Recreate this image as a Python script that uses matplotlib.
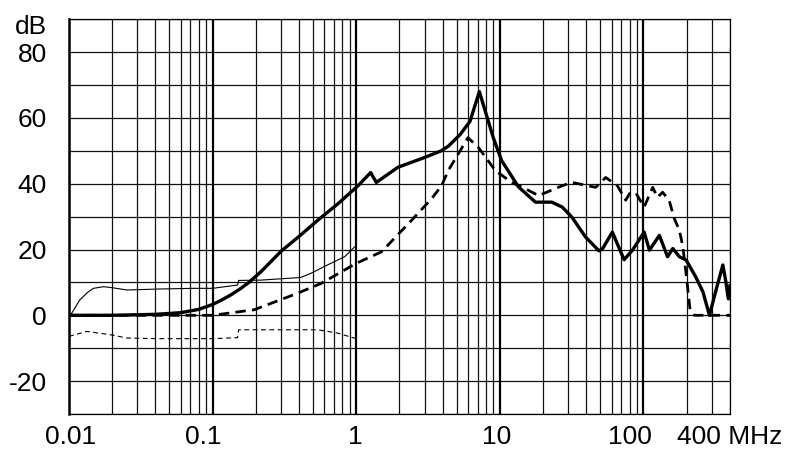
import matplotlib
matplotlib.use("Agg")
import matplotlib.pyplot as plt
from matplotlib.transforms import ScaledTranslation

plt.rcParams['font.family'] = ['Liberation Sans', 'DejaVu Sans']
plt.rcParams['lines.scale_dashes'] = False

# thick solid curve
freq_a = [0.01, 0.02, 0.04, 0.06, 0.08, 0.1, 0.115, 0.134, 0.155, 0.179, 0.22, 0.3, 0.4,
          0.54, 0.75, 1.03, 1.26, 1.38, 1.95, 3.0, 3.9, 4.4, 5.3, 6.2, 7.2, 9.0, 10.3,
          13.5, 17.7, 23, 27.2, 31.8, 39.5, 49, 52, 60.7, 73.3, 83.8, 101, 110, 129,
          147, 160, 178, 198, 231, 259, 288, 320, 357, 372, 390, 400]
db_a = [0, 0, 0.3, 0.8, 1.8, 3.3, 4.6, 6.2, 8.0, 10, 13.5, 19.5, 24,
        28.9, 34, 39.4, 43.4, 40.4, 45, 48, 50, 51.5, 55, 59, 68, 54, 47,
        39, 34.4, 34.4, 32.9, 29.8, 23.8, 19.6, 20.3, 25.3, 16.9, 19.8, 25.3, 19.8, 24.3,
        17.8, 20.3, 17.8, 16.8, 11.7, 7.2, 0, 7.7, 15.3, 11, 5, 9]

# thick dashed curve
freq_b = [0.01, 0.1, 0.195, 0.3, 0.39, 0.57, 1.0, 1.5, 2.43, 3.34, 3.93, 4.37, 6.0,
          7.1, 9.3, 12.1, 15, 18.6, 27.2, 31.8, 46.4, 54.6, 65.8, 75.2, 80, 88, 101,
          116, 125, 136, 151, 164, 178, 188, 198, 211, 226, 400]
db_b = [0, 0, 1.7, 4.8, 6.7, 9.7, 15.8, 19.3, 28.9, 35.4, 39.4, 44, 54,
        51, 44, 40.4, 38.5, 36.4, 39.4, 40.4, 38.9, 41.9, 39.4, 35, 37, 37.4, 32.9,
        38.9, 35.9, 37.4, 34.9, 29.4, 25.8, 20.8, 12.7, 1.7, 0, 0]

# thin solid curve
freq_c = [0.01, 0.0104, 0.0119, 0.0135, 0.0148, 0.0174, 0.02, 0.0253, 0.043, 0.074,
          0.1, 0.149, 0.152, 0.217, 0.41, 0.48, 0.63, 0.83, 0.975, 1.0]
db_c = [0, 0.5, 4.7, 7, 8.2, 8.7, 8.4, 7.7, 8.0, 8.2,
        8.2, 9.2, 10.6, 10.7, 11.5, 12.7, 15.3, 17.8, 20.8, 21]

# thin dashed curve
freq_d = [0.01, 0.0133, 0.0194, 0.0253, 0.04, 0.1, 0.149, 0.152, 0.54, 0.74, 1.0]
db_d = [-6.4, -4.9, -5.9, -6.9, -7.1, -7.1, -6.8, -4.4, -4.4, -5.4, -7.1]

x_ticks = [0.01, 0.1, 1, 10, 100, 400]
x_labels = ["0.01", "0.1", "1", "10", "100", "400 MHz"]
x_label_shift = [1, -7, -1, -2, -10, 0]  # points
y_ticks = list(range(-30, 91, 10))
y_labels = ["", "-20", "", "0", "", "20", "", "40", "", "60", "", "80", "dB"]


def graphic():
    fig = plt.figure(figsize=(7.9, 4.69), dpi=100)
    ax = fig.add_axes([0.0873, 0.1173, 0.8367, 0.8416])
    ax.set_xscale("log")
    ax.set_xlim(0.01, 400)
    ax.set_ylim(-30, 90)

    ax.plot(freq_c, db_c, color="black", linewidth=0.8, zorder=3)
    ax.plot(freq_d, db_d, color="black", linewidth=0.8, dashes=(3.5, 2.5), zorder=3)
    ax.plot(freq_b, db_b, color="black", linewidth=2.0, dashes=(7.5, 4.5), zorder=3)
    ax.plot(freq_a, db_a, color="black", linewidth=2.4, zorder=4)

    # grid
    for dec in [0.01, 0.1, 1, 10, 100]:
        ax.axvline(dec, color="black", linewidth=1.6, zorder=1)
        for m in range(2, 10):
            if dec * m <= 400:
                ax.axvline(dec * m, color="#111111", linewidth=0.9, zorder=1)
    for y in y_ticks:
        ax.axhline(y, color="#111111", linewidth=0.9, zorder=1)

    ax.set_xticks(x_ticks)
    ax.set_xticklabels(x_labels, fontsize=19)
    ax.xaxis.set_minor_locator(matplotlib.ticker.NullLocator())
    ax.set_yticks(y_ticks)
    ax.set_yticklabels(y_labels, fontsize=19)
    ax.tick_params(axis="both", length=0)
    ax.tick_params(axis="x", pad=8)
    ax.tick_params(axis="y", pad=16)

    for lab, dx in zip(ax.get_xticklabels(), x_label_shift):
        lab.set_transform(lab.get_transform() + ScaledTranslation(dx / 72, 0, fig.dpi_scale_trans))
    ylabs = ax.get_yticklabels()
    ylabs[-1].set_transform(ylabs[-1].get_transform() + ScaledTranslation(0, -4 / 72, fig.dpi_scale_trans))

    for side in ["top", "right", "bottom"]:
        ax.spines[side].set_linewidth(0.9)
    ax.spines["left"].set_linewidth(1.8)

    fig.savefig("out.png", dpi=100)


def main():
    graphic()


if __name__ == '__main__':
    main()
